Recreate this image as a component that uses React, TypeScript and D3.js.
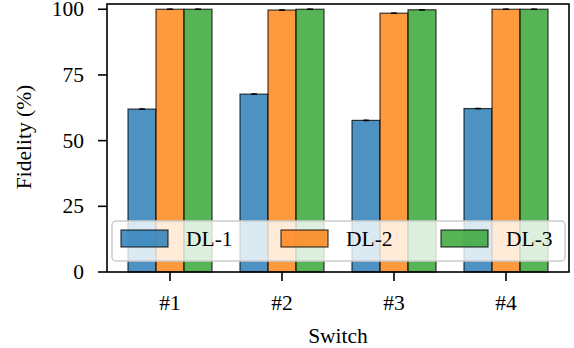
import React from 'react';
import * as d3 from 'd3';

const switches = ['#1', '#2', '#3', '#4'];
const seriesNames = ['DL-1', 'DL-2', 'DL-3'];
const dl1 = [62.0, 67.7, 57.7, 62.2];
const dl2 = [100.0, 99.7, 98.5, 100.0];
const dl3 = [100.0, 100.0, 99.8, 100.0];
const errs = [0.3, 0.3, 0.3, 0.3];
const yTicks = [0, 25, 50, 75, 100];
const colors = ['#1f77b4', '#ff7f0e', '#2ca02c'];

const W = 574;
const H = 348;
const FONT = '"Liberation Serif", "Times New Roman", serif';
const FS = 21.5;

export default function App() {
  const series = [dl1, dl2, dl3];
  const barW = 0.25;
  const x = d3.scaleLinear().domain([-0.5625, 3.5625]).range([107, 569]);
  const y = d3.scaleLinear().domain([0, 102]).range([272, 4]);
  const px = (v: number) => x(v) - x(0);

  const legendX = 112;
  const legendY = 221;
  const legendW = 453;
  const legendH = 40;
  const colW = 160;

  return (
    <svg width={W} height={H} style={{ position: 'absolute', left: 0, top: 0 }} fontFamily={FONT}>
      <rect width={W} height={H} fill="#fff" />
      {series.map((vals, si) =>
        vals.map((v, i) => {
          const cx = i + (si - 1) * barW;
          const x0 = x(cx - barW / 2);
          return (
            <g key={`${si}-${i}`}>
              <rect
                x={x0}
                y={y(v)}
                width={px(barW)}
                height={y(0) - y(v)}
                fill={colors[si]}
                fillOpacity={0.8}
                stroke="#000"
                strokeOpacity={0.75}
                strokeWidth={1.2}
              />
              <line x1={x(cx)} x2={x(cx)} y1={y(v - errs[i])} y2={y(Math.min(v + errs[i], 101.9))} stroke="#000" strokeWidth={1.5} />
              <line x1={x(cx) - 3} x2={x(cx) + 3} y1={y(v)} y2={y(v)} stroke="#000" strokeWidth={1.5} />
            </g>
          );
        })
      )}
      {/* legend */}
      <rect x={legendX} y={legendY} width={legendW} height={legendH} rx={4} fill="#fff" fillOpacity={0.8} stroke="#ccc" strokeWidth={1.5} />
      {seriesNames.map((n, i) => (
        <g key={n} transform={`translate(${legendX + 9 + i * colW},${legendY + 9})`}>
          <rect x={0} y={0} width={47} height={17} fill={colors[i]} fillOpacity={0.8} stroke="#000" strokeOpacity={0.75} strokeWidth={1.2} />
          <text x={65} y={16} fontSize={FS} fill="#000">{n}</text>
        </g>
      ))}
      {/* spines */}
      <rect x={107} y={4} width={462} height={268} fill="none" stroke="#000" strokeWidth={1.6} />
      {yTicks.map(t => (
        <g key={t}>
          <line x1={98} x2={107} y1={y(t)} y2={y(t)} stroke="#000" strokeWidth={1.6} />
          <text x={84} y={y(t) + 7} textAnchor="end" fontSize={FS}>{t}</text>
        </g>
      ))}
      {switches.map((s, i) => (
        <g key={s}>
          <line x1={x(i)} x2={x(i)} y1={272} y2={281} stroke="#000" strokeWidth={1.6} />
          <text x={x(i)} y={310} textAnchor="middle" fontSize={FS}>{s}</text>
        </g>
      ))}
      <text x={338} y={343} textAnchor="middle" fontSize={FS}>Switch</text>
      <text transform="translate(31,137) rotate(-90)" textAnchor="middle" fontSize={FS}>Fidelity (%)</text>
    </svg>
  );
}
